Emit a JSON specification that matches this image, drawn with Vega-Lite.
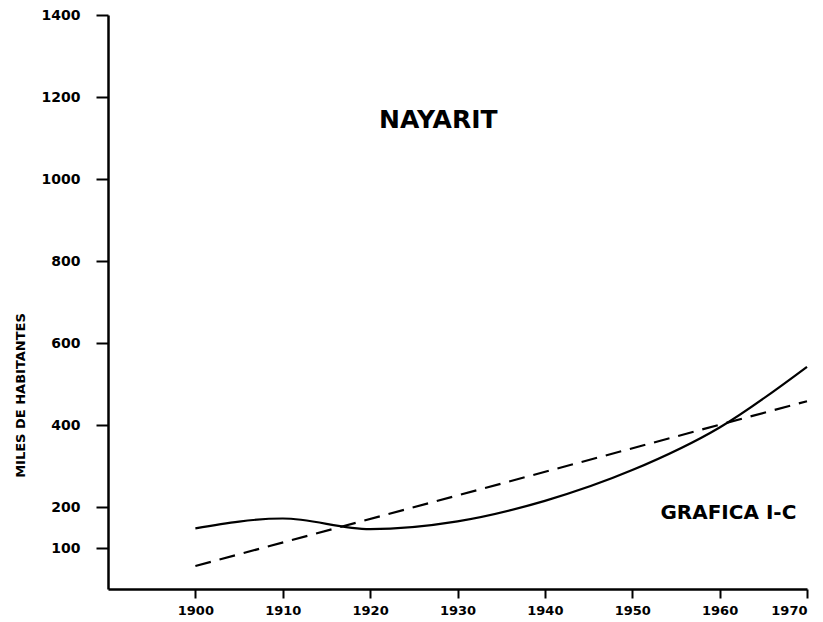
{
  "$schema": "https://vega.github.io/schema/vega-lite/v6.json",
  "width": 699,
  "height": 574,
  "autosize": {"type": "none"},
  "padding": {"left": 108, "top": 15, "right": 16, "bottom": 33},
  "background": "white",
  "config": {"view": {"stroke": null}, "font": "DejaVu Sans"},
  "datasets": {
    "series": [
      {"year": 1900, "value": 148, "series": "Censo"},
      {"year": 1910, "value": 172, "series": "Censo"},
      {"year": 1920, "value": 146, "series": "Censo"},
      {"year": 1930, "value": 165, "series": "Censo"},
      {"year": 1940, "value": 215, "series": "Censo"},
      {"year": 1950, "value": 290, "series": "Censo"},
      {"year": 1960, "value": 394, "series": "Censo"},
      {"year": 1970, "value": 542, "series": "Censo"},
      {"year": 1900, "value": 56, "series": "Tendencia"},
      {"year": 1970, "value": 458, "series": "Tendencia"}
    ],
    "labels": [
      {"year": 1927.8, "value": 1143, "text": "NAYARIT", "size": 25},
      {"year": 1961, "value": 185, "text": "GRAFICA I-C", "size": 20}
    ]
  },
  "encoding": {
    "x": {
      "field": "year", "type": "quantitative",
      "scale": {"domain": [1890, 1970], "nice": false, "zero": false},
      "axis": {
        "values": [1900, 1910, 1920, 1930, 1940, 1950, 1960, 1970],
        "format": "d", "title": null, "grid": false,
        "domainColor": "black", "domainWidth": 2.5,
        "tickColor": "black", "tickWidth": 2, "tickSize": 9,
        "labelFont": "DejaVu Sans", "labelFontWeight": "bold", "labelFontSize": 13,
        "labelColor": "black", "labelPadding": 6
      }
    },
    "y": {
      "field": "value", "type": "quantitative",
      "scale": {"domain": [0, 1400], "nice": false},
      "axis": {
        "values": [100, 200, 400, 600, 800, 1000, 1200, 1400],
        "format": "d", "grid": false,
        "domainColor": "black", "domainWidth": 2.5,
        "tickColor": "black", "tickWidth": 2, "tickSize": 12,
        "labelFont": "DejaVu Sans", "labelFontWeight": "bold", "labelFontSize": 14,
        "labelColor": "black", "labelPadding": 16,
        "title": "MILES DE HABITANTES",
        "titleFont": "DejaVu Sans", "titleFontWeight": "bold", "titleFontSize": 13,
        "titleColor": "black", "titleX": -88, "titleY": 380,
        "titleAngle": -90, "titleAlign": "center", "titleBaseline": "middle"
      }
    }
  },
  "layer": [
    {
      "data": {"name": "series"},
      "transform": [{"filter": "datum.series == 'Censo'"}],
      "mark": {"type": "line", "color": "black", "strokeWidth": 2.2, "interpolate": "monotone"}
    },
    {
      "data": {"name": "series"},
      "transform": [{"filter": "datum.series == 'Tendencia'"}],
      "mark": {"type": "line", "color": "black", "strokeWidth": 2.2, "strokeDash": [16, 9]}
    },
    {
      "data": {"name": "labels"},
      "mark": {"type": "text", "color": "black", "fontWeight": "bold", "font": "DejaVu Sans", "align": "center", "baseline": "middle"},
      "encoding": {
        "text": {"field": "text"},
        "size": {"field": "size", "type": "quantitative", "scale": null}
      }
    }
  ]
}
